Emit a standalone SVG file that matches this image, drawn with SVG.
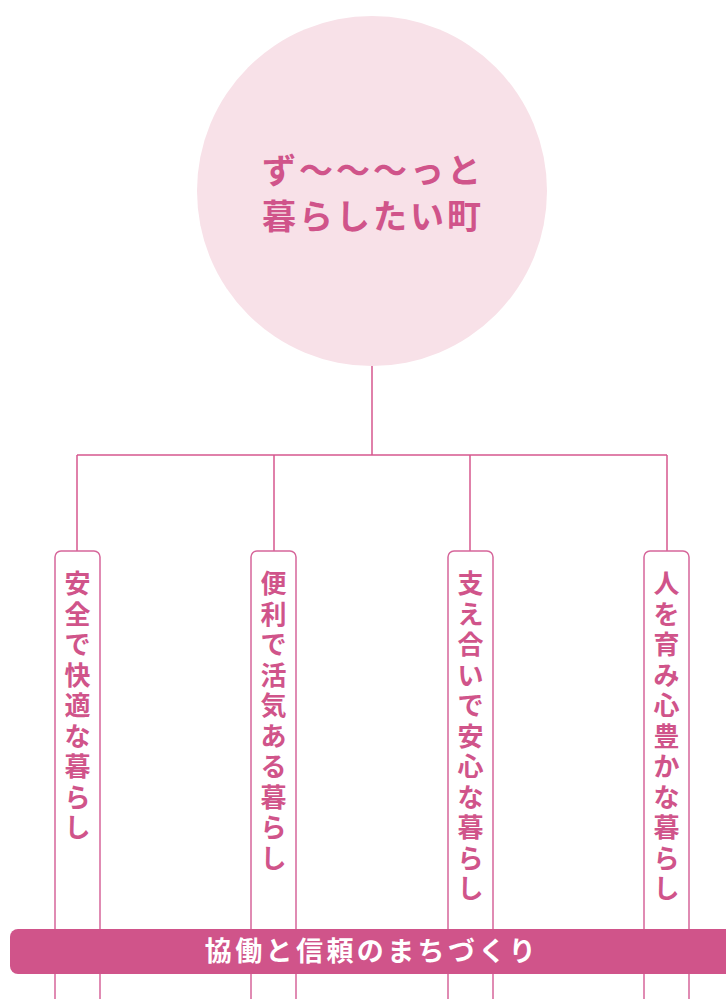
<svg xmlns="http://www.w3.org/2000/svg" width="726" height="999" viewBox="0 0 726 999">
<style>
.ln{stroke:#d6588f;stroke-width:1.5;fill:none}
.box{stroke:#d6669a;stroke-width:1.5;fill:#fff}
.vt{font-family:"Noto Sans CJK JP","Noto Sans",sans-serif;font-weight:700;font-size:26px;fill:#d0548a;text-anchor:middle}
.tt{font-family:"Noto Sans CJK JP","Noto Sans",sans-serif;font-weight:700;font-size:34px;fill:#d0548a;text-anchor:middle;letter-spacing:3px}
.bt{font-family:"Noto Sans CJK JP","Noto Sans",sans-serif;font-weight:700;font-size:27px;fill:#fff;text-anchor:middle;letter-spacing:3.4px}
</style>
<rect width="726" height="999" fill="#fff"/>
<g id="connectors">
<path class="ln" d="M372 366V455M77 455H667M77 455V551M274 455V551M470 455V551M667 455V551"/>
</g>
<g id="root">
<circle cx="372" cy="191" r="175" fill="#f8e1e8"/>
<text class="tt" x="373" y="183">ず〜〜〜っと</text>
<text class="tt" x="373" y="229">暮らしたい町</text>
</g>
<g id="n1">
<rect class="box" x="55" y="551" width="45" height="460" rx="6"/>
<text class="vt" x="77.5 77.5 77.5 77.5 77.5 77.5 77.5 77.5 77.5" y="593 623.5 654 684.5 715 745.5 776 806.5 837">安全で快適な暮らし</text>
</g>
<g id="n2">
<rect class="box" x="251" y="551" width="45" height="460" rx="6"/>
<text class="vt" x="273.5 273.5 273.5 273.5 273.5 273.5 273.5 273.5 273.5 273.5" y="593 623.5 654 684.5 715 745.5 776 806.5 837 867.5">便利で活気ある暮らし</text>
</g>
<g id="n3">
<rect class="box" x="448" y="551" width="45" height="460" rx="6"/>
<text class="vt" x="470.5 470.5 470.5 470.5 470.5 470.5 470.5 470.5 470.5 470.5 470.5" y="593 623.5 654 684.5 715 745.5 776 806.5 837 867.5 898">支え合いで安心な暮らし</text>
</g>
<g id="n4">
<rect class="box" x="644" y="551" width="45" height="460" rx="6"/>
<text class="vt" x="666.5 666.5 666.5 666.5 666.5 666.5 666.5 666.5 666.5 666.5 666.5" y="593 623.5 654 684.5 715 745.5 776 806.5 837 867.5 898">人を育み心豊かな暮らし</text>
</g>
<g id="band">
<rect x="10" y="929" width="740" height="45" rx="8" fill="#d0548a"/>
<text class="bt" x="372" y="961">協働と信頼のまちづくり</text>
</g>
</svg>
